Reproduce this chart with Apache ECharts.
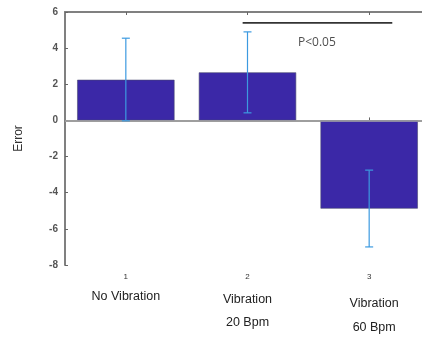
<!DOCTYPE html>
<html>
<head>
<meta charset="utf-8">
<script src="https://cdn.jsdelivr.net/npm/echarts@6/dist/echarts.min.js"></script>
<style>
  html, body { margin: 0; padding: 0; background: #fff; overflow: hidden; width: 422px; height: 341px; }
  #chart { width: 430px; height: 341px; }
</style>
</head>
<body>
<div id="chart"></div>
<script>
// Group numbers and their names
const groupNumbers = ['1', '2', '3'];
const groupNames = [['No Vibration'], ['Vibration', '20 Bpm'], ['Vibration', '60 Bpm']];
// Mean error per group and the ends of each error bar
const meanError = [2.25, 2.66, -4.88];
const errLow = [-0.02, 0.42, -7.0];
const errHigh = [4.55, 4.9, -2.75];
// Significance bracket between groups 2 and 3
const sigSpan = [1.96, 3.19];
const sigLevel = 5.4;
const sigText = 'P<0.05';
const sigTextPos = [2.57, 4.3];
// Y-axis range
const yMin = -8, yMax = 6, yStep = 2;

const axisGray = '#808080';
const chart = echarts.init(document.getElementById('chart'));

// Spacer heights push each group's name block down a little further
const labelStyles = ['a', 'b', 'c'];

chart.setOption({
  animation: false,
  grid: { left: 65, top: 12, bottom: 76, right: 0 },
  xAxis: [
    {
      type: 'category',
      data: groupNumbers,
      position: 'bottom',
      axisLine: { lineStyle: { color: axisGray, width: 2 } },
      axisTick: { show: true, inside: true, alignWithLabel: true, length: 3, lineStyle: { color: '#666' } },
      axisLabel: {
        margin: 6,
        formatter: function (v, i) {
          const s = labelStyles[i];
          const sp = '{s' + i + '|\u00a0}';
          const lines = groupNames[i].map(t => '{' + s + '|' + t + '}').join('\n');
          return '{n|' + v + '}\n' + sp + '\n' + lines;
        },
        rich: {
          n: { fontSize: 8, lineHeight: 12, color: '#333', fontFamily: 'Liberation Sans' },
          s0: { fontSize: 1, lineHeight: 0.1 },
          s1: { fontSize: 1, lineHeight: 5 },
          s2: { fontSize: 1, lineHeight: 9 },
          a: { fontSize: 12.5, lineHeight: 26, color: '#222', fontFamily: 'Liberation Sans' },
          b: { fontSize: 12.5, lineHeight: 23, color: '#222', fontFamily: 'Liberation Sans' },
          c: { fontSize: 12.5, lineHeight: 24, color: '#222', fontFamily: 'Liberation Sans', padding: [0, 0, 0, 10] }
        }
      },
      splitLine: { show: false }
    },
    {
      type: 'category',
      data: groupNumbers,
      position: 'top',
      axisLine: { lineStyle: { color: axisGray, width: 2 } },
      axisTick: { show: true, inside: true, alignWithLabel: true, length: 3, lineStyle: { color: '#666' } },
      axisLabel: { show: false },
      splitLine: { show: false }
    },
    {
      type: 'value',
      min: 0.5,
      max: 3.5,
      show: false
    }
  ],
  yAxis: {
    type: 'value',
    min: yMin,
    max: yMax,
    interval: yStep,
    name: 'Error',
    nameLocation: 'middle',
    nameGap: 40,
    nameTextStyle: { fontSize: 12, color: '#333', fontFamily: 'Liberation Sans' },
    axisLine: { show: true, lineStyle: { color: axisGray, width: 2 } },
    axisTick: { show: true, inside: true, length: 3, lineStyle: { color: '#666' } },
    axisLabel: { margin: 7, fontSize: 10, fontWeight: 'bold', color: '#555', fontFamily: 'Liberation Sans' },
    splitLine: { show: false }
  },
  series: [
    {
      type: 'bar',
      data: meanError,
      barWidth: '80%',
      itemStyle: { color: '#3b28a7', borderColor: '#4a4a70', borderWidth: 0.6 },
      markLine: {
        silent: true,
        symbol: 'none',
        label: { show: false },
        lineStyle: { color: '#a8a8a8', width: 1.5, type: 'solid' },
        data: [{ yAxis: 0 }]
      }
    },
    {
      type: 'custom',
      data: meanError.map((m, i) => [i, errLow[i], errHigh[i]]),
      z: 5,
      renderItem: function (params, api) {
        const lo = api.coord([api.value(0), api.value(1)]);
        const hi = api.coord([api.value(0), api.value(2)]);
        const cap = 4;
        const style = { stroke: '#3c9ae0', lineWidth: 1.2 };
        return {
          type: 'group',
          children: [
            { type: 'line', shape: { x1: lo[0], y1: lo[1], x2: hi[0], y2: hi[1] }, style: style },
            { type: 'line', shape: { x1: lo[0] - cap, y1: lo[1], x2: lo[0] + cap, y2: lo[1] }, style: style },
            { type: 'line', shape: { x1: hi[0] - cap, y1: hi[1], x2: hi[0] + cap, y2: hi[1] }, style: style }
          ]
        };
      }
    },
    {
      type: 'line',
      xAxisIndex: 2,
      data: [[sigSpan[0], sigLevel], [sigSpan[1], sigLevel]],
      symbol: 'none',
      lineStyle: { color: '#333', width: 1.8 },
      silent: true
    },
    {
      type: 'scatter',
      xAxisIndex: 2,
      data: [sigTextPos],
      symbolSize: 0,
      silent: true,
      label: {
        show: true,
        position: 'inside',
        formatter: sigText,
        fontSize: 12,
        color: '#222',
        fontFamily: 'Open Sans'
      }
    }
  ]
});
</script>
</body>
</html>
